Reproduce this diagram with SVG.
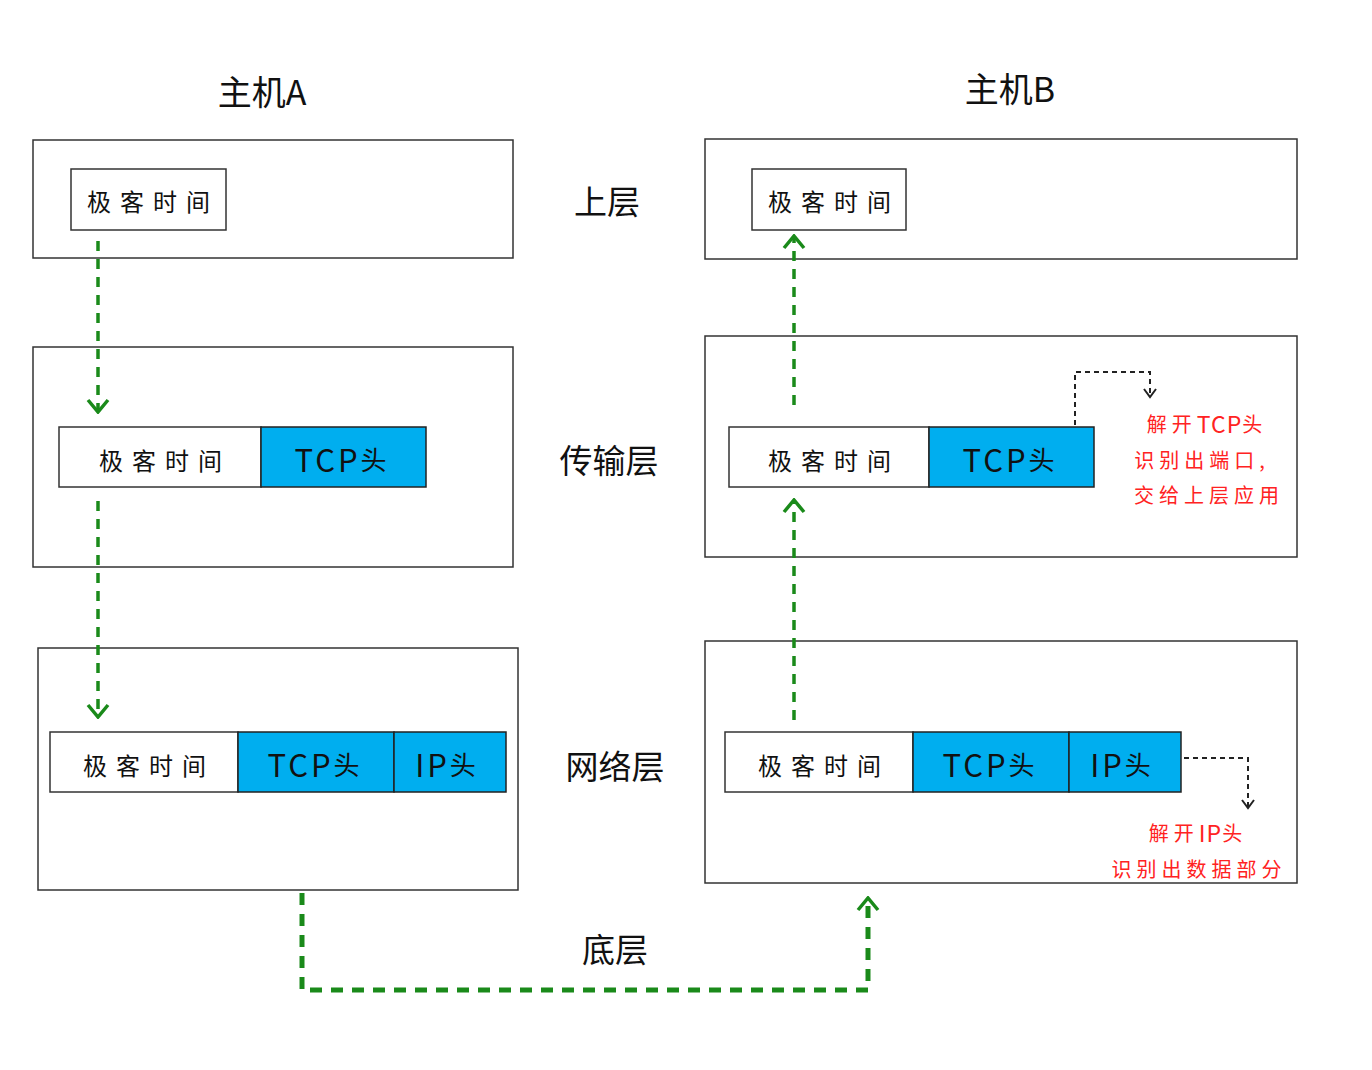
<svg xmlns="http://www.w3.org/2000/svg" width="1372" height="1070" viewBox="0 0 1372 1070">
<defs>
<style>
text{font-family:"Noto Sans CJK SC","Noto Sans",sans-serif;fill:#111;text-anchor:middle;dominant-baseline:central}
.box{fill:#fff;stroke:#333;stroke-width:1.5}
.blue{fill:#00AEEF;stroke:#222;stroke-width:1.5}
.t{font-size:24px;letter-spacing:9px}
.p{font-size:31px;letter-spacing:3px}
.p tspan{font-size:26px}
.h{font-size:34px}
.l{font-size:33px}
.r{font-size:20px;fill:#f22;letter-spacing:5px}
.r tspan{font-size:23px;letter-spacing:1px}
.g{fill:none;stroke:#1a8a1a;stroke-width:3.5;stroke-dasharray:10 8}
.gb{fill:none;stroke:#1a8a1a;stroke-width:5;stroke-dasharray:12 9}
.k{fill:none;stroke:#222;stroke-width:2;stroke-dasharray:5 4}
</style>
<marker id="ga" markerWidth="16" markerHeight="24" refX="14" refY="12" orient="auto" markerUnits="userSpaceOnUse" viewBox="0 0 16 24"><path d="M2,2 L14,12 L2,22" fill="none" stroke="#1a8a1a" stroke-width="3.5" stroke-dasharray="none"/></marker>
<marker id="ka" markerWidth="12" markerHeight="14" refX="10" refY="7" orient="auto" markerUnits="userSpaceOnUse" viewBox="0 0 12 14"><path d="M2,1 L10,7 L2,13" fill="none" stroke="#222" stroke-width="2" stroke-dasharray="none"/></marker>
</defs>
<rect width="1372" height="1070" fill="#fff"/>

<g id="titles">
<text class="h" x="262" y="90">主机A</text>
<text class="h" x="1010" y="87">主机B</text>
</g>
<g id="layer-labels">
<text class="l" x="607" y="200">上层</text>
<text class="l" x="609" y="459">传输层</text>
<text class="l" x="615" y="765">网络层</text>
<text class="l" x="615" y="948">底层</text>
</g>

<g id="hostA-upper">
<rect class="box" x="33" y="140" width="480" height="118"/>
<rect class="box" x="71" y="169" width="155" height="61"/>
<text class="t" x="153" y="200">极客时间</text>
</g>
<g id="hostA-transport">
<rect class="box" x="33" y="347" width="480" height="220"/>
<rect class="box" x="59" y="427" width="202" height="60"/>
<text class="t" x="165" y="459">极客时间</text>
<rect class="blue" x="261" y="427" width="165" height="60"/>
<text class="p" x="342" y="458">TCP<tspan>头</tspan></text>
</g>
<g id="hostA-network">
<rect class="box" x="38" y="648" width="480" height="242"/>
<rect class="box" x="50" y="732" width="188" height="60"/>
<text class="t" x="149" y="764">极客时间</text>
<rect class="blue" x="238" y="732" width="156" height="60"/>
<text class="p" x="315" y="763">TCP<tspan>头</tspan></text>
<rect class="blue" x="394" y="732" width="112" height="60"/>
<text class="p" x="447" y="763">IP<tspan>头</tspan></text>
</g>

<g id="hostB-upper">
<rect class="box" x="705" y="139" width="592" height="120"/>
<rect class="box" x="752" y="169" width="154" height="61"/>
<text class="t" x="834" y="200">极客时间</text>
</g>
<g id="hostB-transport">
<rect class="box" x="705" y="336" width="592" height="221"/>
<rect class="box" x="729" y="427" width="200" height="60"/>
<text class="t" x="834" y="459">极客时间</text>
<rect class="blue" x="929" y="427" width="165" height="60"/>
<text class="p" x="1010" y="458">TCP<tspan>头</tspan></text>
<text class="r" x="1207" y="423">解开<tspan>TCP</tspan>头</text>
<text class="r" x="1202" y="459">识别出端口,</text>
<text class="r" x="1209" y="494">交给上层应用</text>
</g>
<g id="hostB-network">
<rect class="box" x="705" y="641" width="592" height="242"/>
<rect class="box" x="725" y="732" width="188" height="60"/>
<text class="t" x="824" y="764">极客时间</text>
<rect class="blue" x="913" y="732" width="156" height="60"/>
<text class="p" x="990" y="763">TCP<tspan>头</tspan></text>
<rect class="blue" x="1069" y="732" width="112" height="60"/>
<text class="p" x="1122" y="763">IP<tspan>头</tspan></text>
<text class="r" x="1198" y="832">解开<tspan>IP</tspan>头</text>
<text class="r" x="1199" y="868">识别出数据部分</text>
</g>

<g id="connectors">
<path class="g" d="M98,241 V412" marker-end="url(#ga)"/>
<path class="g" d="M98,501 V717" marker-end="url(#ga)"/>
<path class="gb" d="M302,893 V990 H868 V898" marker-end="url(#ga)"/>
<path class="g" d="M794,720 V500" marker-end="url(#ga)"/>
<path class="g" d="M794,405 V236" marker-end="url(#ga)"/>
<path class="k" d="M1075,425 V372 H1150 V397" marker-end="url(#ka)"/>
<path class="k" d="M1184,758 H1248 V808" marker-end="url(#ka)"/>
</g>
</svg>
